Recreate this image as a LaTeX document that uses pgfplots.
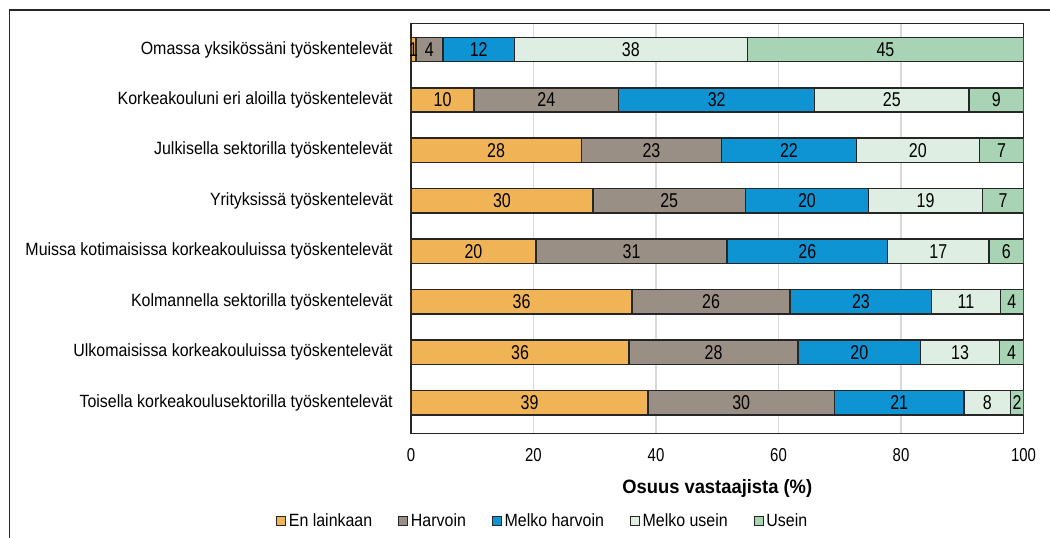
\documentclass[border=0pt]{standalone}
\usepackage{fontspec}
\setmainfont{Liberation Sans}[FakeStretch=0.9]
\newfontfamily\narrowfont{Liberation Sans}[FakeStretch=0.8]
\newfontfamily\titlefont{Liberation Sans}[FakeStretch=0.95]
\usepackage{pgfplots}
\usepackage{pgfplotstable}
\pgfplotsset{compat=1.18}

\definecolor{cOrange}{HTML}{F0B456}
\definecolor{cGray}{HTML}{9A8F85}
\definecolor{cBlue}{HTML}{0E93D3}
\definecolor{cLight}{HTML}{DEEEE2}
\definecolor{cGreen}{HTML}{A8D3B4}
\definecolor{cEdge}{HTML}{262626}
\definecolor{cGrid}{HTML}{D9D9D9}

% rows top to bottom; columns: En lainkaan, Harvoin, Melko harvoin, Melko usein, Usein
\pgfplotstableread{
idx a    b    c    d    e
0   0.8  4.4  11.7 38.0 45.1
1   10.3 23.6 32.0 25.2 8.9
2   27.8 22.9 22.0 20.1 7.2
3   29.7 24.9 20.1 18.6 6.7
4   20.4 31.2 26.2 16.6 5.6
5   36.1 25.8 23.1 11.2 3.8
6   35.6 27.6 20.0 12.9 3.9
7   38.7 30.4 21.2 7.6  2.1
}\datatable

\newcommand{\fs}{\fontsize{13.3}{15}\selectfont}

\begin{document}
\begin{tikzpicture}
\useasboundingbox (-308.25pt,-78.5pt) rectangle (479.25pt,325pt);
\begin{axis}[
    at={(0,0)}, anchor=south west,
    scale only axis,
    width=459.4pt, height=307.5pt,
    xbar stacked,
    bar width=0.484,
    y dir=reverse,
    xmin=0, xmax=100,
    ymin=-0.52, ymax=7.61,
    xtick={0,20,...,100},
    ytick={0,...,7},
    yticklabels={
        Omassa yksikössäni työskentelevät,
        Korkeakouluni eri aloilla työskentelevät,
        Julkisella sektorilla työskentelevät,
        Yrityksissä työskentelevät,
        Muissa kotimaisissa korkeakouluissa työskentelevät,
        Kolmannella sektorilla työskentelevät,
        Ulkomaisissa korkeakouluissa työskentelevät,
        Toisella korkeakoulusektorilla työskentelevät},
    major tick length=0pt,
    xmajorgrids,
    grid style={cGrid, line width=1pt},
    axis line style={cEdge, line width=1pt},
    tick label style={text=black},
    /pgf/number format/assume math mode=true,
    xticklabel style={font=\narrowfont\fontsize{14}{16}\selectfont, anchor=center, yshift=-16.3pt},
    yticklabel style={font=\fs, anchor=east, inner sep=0pt, xshift=-13.5pt},
    xlabel={Osuus vastaajista (\%)},
    xlabel style={at={(axis description cs:0.5,0)}, anchor=center, yshift=-41pt,
        font=\titlefont\fontsize{14.5}{16}\selectfont\bfseries},
    every axis plot/.append style={draw=cEdge, line width=1.1pt},
    point meta=explicit,
    nodes near coords={\pgfmathprintnumber[fixed,precision=0]{\pgfplotspointmeta}},
    nodes near coords align={center},
    every node near coord/.append style={font=\narrowfont\fontsize{15}{16}\selectfont,
        text=black, anchor=center, inner sep=0pt},
    legend columns=5,
    legend style={at={(rel axis cs:0.2155,-0.214)}, anchor=center, draw=none, fill=none,
        font=\fs, inner sep=0pt,
        /tikz/every even column/.append style={column sep=17.4pt}},
    legend image code/.code={\draw[#1, line width=0.8pt] (0pt,-3.4pt) rectangle (6.8pt,3.4pt);},
]
\addplot[fill=cOrange] table[x=a, y=idx, meta=a] {\datatable};
\addlegendentry{En lainkaan}
\addplot[fill=cGray] table[x=b, y=idx, meta=b] {\datatable};
\addlegendentry{Harvoin}
\addplot[fill=cBlue] table[x=c, y=idx, meta=c] {\datatable};
\addlegendentry{Melko harvoin}
\addplot[fill=cLight] table[x=d, y=idx, meta=d] {\datatable};
\addlegendentry{Melko usein}
\addplot[fill=cGreen] table[x=e, y=idx, meta=e] {\datatable};
\addlegendentry{Usein}
\end{axis}
\draw[cEdge, line width=1.1pt] (-301.3pt,-90pt) -- (-301.3pt,317.5pt) -- (490pt,317.5pt);
\end{tikzpicture}
\end{document}
